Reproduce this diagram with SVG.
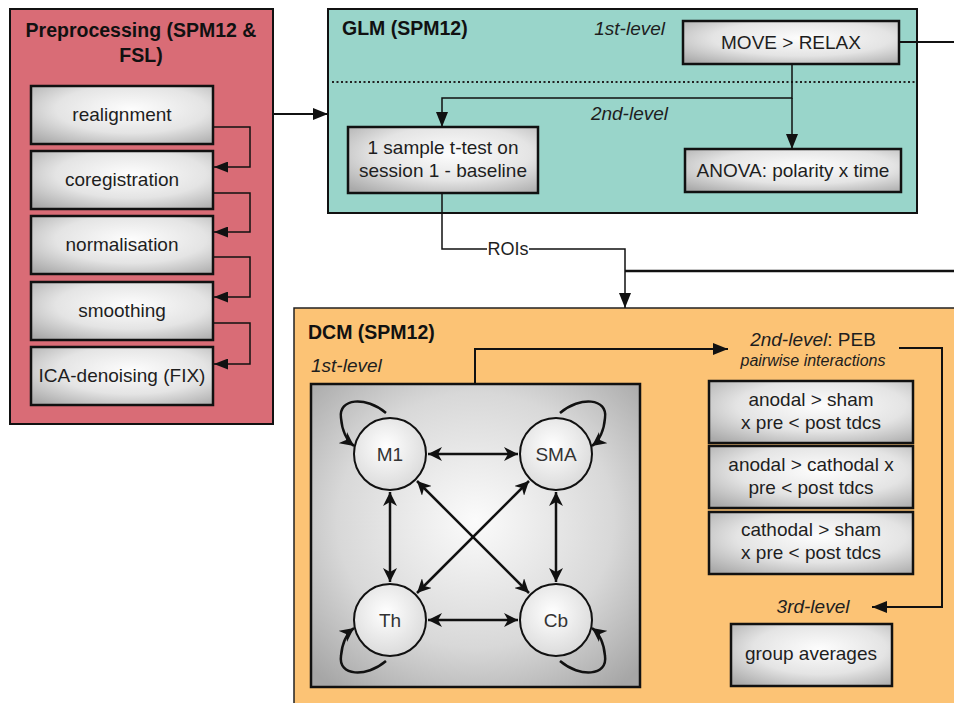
<svg xmlns="http://www.w3.org/2000/svg" width="954" height="703" viewBox="0 0 954 703">
<defs>
<radialGradient id="boxg" cx="0.55" cy="0.4" r="0.75">
<stop offset="0" stop-color="#fdfdfd"/>
<stop offset="0.55" stop-color="#e4e4e4"/>
<stop offset="1" stop-color="#aaaaaa"/>
</radialGradient>
<radialGradient id="panelg" cx="0.5" cy="0.45" r="0.7">
<stop offset="0" stop-color="#fbfbfb"/>
<stop offset="0.6" stop-color="#d8d8d8"/>
<stop offset="1" stop-color="#a6a6a6"/>
</radialGradient>
<radialGradient id="circg" cx="0.45" cy="0.4" r="0.65">
<stop offset="0" stop-color="#ffffff"/>
<stop offset="1" stop-color="#d8d8d8"/>
</radialGradient>
<marker id="ah" markerUnits="userSpaceOnUse" markerWidth="16" markerHeight="12" refX="15" refY="6" orient="auto">
<path d="M0,0 L15,6 L0,12 Z" fill="#111"/>
</marker>
<marker id="ahs" markerUnits="userSpaceOnUse" markerWidth="15" markerHeight="11" refX="14" refY="5.5" orient="auto">
<path d="M0,0 L14,5.5 L0,11 Z" fill="#111"/>
</marker>
<marker id="an" markerUnits="userSpaceOnUse" markerWidth="16" markerHeight="14" refX="14" refY="7" orient="auto-start-reverse">
<path d="M0,0 L14,7 L0,14 L4,7 Z" fill="#111"/>
</marker>
</defs>
<style>
.t{font-family:"Liberation Sans",Arial,sans-serif;font-size:19px;fill:#1e1e1e}
.b{font-family:"Liberation Sans",Arial,sans-serif;font-size:19.5px;font-weight:bold;fill:#111}
.i{font-style:italic}
.m{text-anchor:middle}
.box{fill:url(#boxg);stroke:#111;stroke-width:2.5}
.ln{fill:none;stroke:#111;stroke-width:2}
.ln1{fill:none;stroke:#111;stroke-width:1.5}
.nl{fill:none;stroke:#111;stroke-width:2.5}
.circ{fill:url(#circg);stroke:#111;stroke-width:2}
.nt{font-family:"Liberation Sans",Arial,sans-serif;font-size:19px;fill:#333;text-anchor:middle}
</style>
<rect width="954" height="703" fill="#fff"/>

<g id="preprocessing">
<rect x="10" y="9" width="263" height="415" fill="#d96c76" stroke="#111" stroke-width="2"/>
<text class="b m" x="141" y="37">Preprocessing (SPM12 &amp;</text>
<text class="b m" x="141" y="62">FSL)</text>
</g>
<g id="realignment"><rect class="box" x="31" y="86" width="182" height="58"/><text class="t m" x="122" y="121">realignment</text></g>
<g id="coregistration"><rect class="box" x="31" y="151" width="182" height="58"/><text class="t m" x="122" y="186">coregistration</text></g>
<g id="normalisation"><rect class="box" x="31" y="216" width="182" height="58"/><text class="t m" x="122" y="251">normalisation</text></g>
<g id="smoothing"><rect class="box" x="31" y="282" width="182" height="58"/><text class="t m" x="122" y="317">smoothing</text></g>
<g id="ica"><rect class="box" x="31" y="347" width="182" height="58"/><text class="t m" x="122" y="382">ICA-denoising (FIX)</text></g>

<g id="glm">
<rect x="328" y="9" width="589" height="204" fill="#99d5ca" stroke="#111" stroke-width="2"/>
<text class="b" x="342" y="35">GLM (SPM12)</text>
<text class="t i" x="665" y="35" text-anchor="end">1st-level</text>
<text class="t i" x="668" y="120" text-anchor="end">2nd-level</text>
<path d="M332,82 H915" fill="none" stroke="#222" stroke-width="2" stroke-dasharray="2,2.5"/>
</g>
<g id="move-relax"><rect class="box" x="683" y="21" width="216" height="43"/><text class="t m" x="791" y="49">MOVE &gt; RELAX</text></g>
<g id="ttest"><rect class="box" x="348" y="127" width="190" height="66"/><text class="t m" x="443" y="154">1 sample t-test on</text><text class="t m" x="443" y="177">session 1 - baseline</text></g>
<g id="anova"><rect class="box" x="685" y="149" width="216" height="43"/><text class="t m" x="793" y="177">ANOVA: polarity x time</text></g>

<g id="dcm">
<rect x="294" y="308" width="700" height="430" fill="#fcc375" stroke="#222" stroke-width="1.5"/>
<text class="b" x="308" y="339">DCM (SPM12)</text>
<text class="t i" x="311" y="372">1st-level</text>
<text class="t m" x="813" y="346"><tspan class="i">2nd-level</tspan>: PEB</text>
<text class="t i m" x="813" y="366" style="font-size:16px">pairwise interactions</text>
<text class="t i m" x="813" y="613">3rd-level</text>
</g>
<g id="network">
<rect x="311" y="384" width="329" height="303" fill="url(#panelg)" stroke="#111" stroke-width="2.5"/>
</g>
<g id="m1"><circle class="circ" cx="390" cy="454" r="36"/><text class="nt" x="390" y="461">M1</text></g>
<g id="sma"><circle class="circ" cx="556" cy="454" r="36"/><text class="nt" x="556" y="461">SMA</text></g>
<g id="th"><circle class="circ" cx="390" cy="620" r="36"/><text class="nt" x="390" y="627">Th</text></g>
<g id="cb"><circle class="circ" cx="556" cy="620" r="36"/><text class="nt" x="556" y="627">Cb</text></g>
<g id="c1"><rect class="box" x="709" y="381" width="204" height="62"/><text class="t m" x="811" y="406">anodal &gt; sham</text><text class="t m" x="811" y="429">x pre &lt; post tdcs</text></g>
<g id="c2"><rect class="box" x="709" y="446" width="204" height="62"/><text class="t m" x="811" y="471">anodal &gt; cathodal x</text><text class="t m" x="811" y="494">pre &lt; post tdcs</text></g>
<g id="c3"><rect class="box" x="709" y="512" width="204" height="62"/><text class="t m" x="811" y="536">cathodal &gt; sham</text><text class="t m" x="811" y="559">x pre &lt; post tdcs</text></g>
<g id="group"><rect class="box" x="731" y="624" width="161" height="62"/><text class="t m" x="811" y="660">group averages</text></g>

<g id="connectors">
<path class="ln1" d="M213,127 H250 V167 H214" marker-end="url(#ahs)"/>
<path class="ln1" d="M213,193 H250 V232 H214" marker-end="url(#ahs)"/>
<path class="ln1" d="M213,257 H250 V297 H214" marker-end="url(#ahs)"/>
<path class="ln1" d="M213,323 H250 V364 H214" marker-end="url(#ahs)"/>
<path class="ln" d="M273,114 H328" marker-end="url(#ah)"/>
<path class="ln" d="M899,42 H954"/>
<path class="ln1" d="M792,64 V98 H442 V127" marker-end="url(#ah)"/>
<path class="ln1" d="M792,98 V149" marker-end="url(#ah)"/>
<path class="ln1" d="M442,193 V249 H487"/>
<text class="t m" x="508" y="255" style="font-size:18px">ROIs</text>
<path class="ln1" d="M529,249 H625 V308" marker-end="url(#ah)"/>
<path class="nl" d="M625,271 H954"/>
<path class="ln" d="M475,384 V349 H728" marker-end="url(#ah)"/>
<path class="ln" d="M899,348 H942 V607 H872" marker-end="url(#ah)"/>
<path class="nl" d="M428,454 H518" marker-start="url(#an)" marker-end="url(#an)"/>
<path class="nl" d="M428,620 H518" marker-start="url(#an)" marker-end="url(#an)"/>
<path class="nl" d="M390,492 V582" marker-start="url(#an)" marker-end="url(#an)"/>
<path class="nl" d="M556,492 V582" marker-start="url(#an)" marker-end="url(#an)"/>
<path class="nl" d="M417,481 L529,593" marker-start="url(#an)" marker-end="url(#an)"/>
<path class="nl" d="M529,481 L417,593" marker-start="url(#an)" marker-end="url(#an)"/>
<path class="nl" d="M386,413 C366,396 338,398 341,418 C342,430 346,440 354,446" marker-end="url(#an)"/>
<path class="nl" d="M560,413 C580,396 608,398 605,418 C604,430 600,440 592,446" marker-end="url(#an)"/>
<path class="nl" d="M386,661 C366,678 338,676 341,656 C342,644 346,634 354,628" marker-end="url(#an)"/>
<path class="nl" d="M560,661 C580,678 608,676 605,656 C604,644 600,634 592,628" marker-end="url(#an)"/>
</g>
</svg>
